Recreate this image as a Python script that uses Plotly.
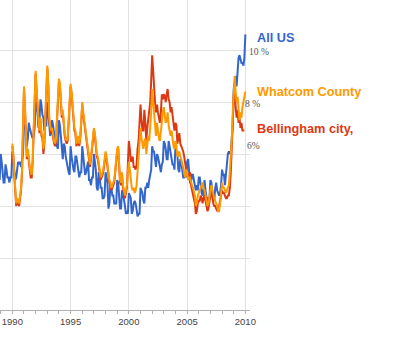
import pandas as pd
import plotly.graph_objects as go

# ---------------- data (monthly unemployment rate, %) ----------------
us_start = "1988-12-01"
county_start = "1990-01-01"

us_rate = [
    5.0,                                                            # Dec 1988
    6.0, 5.7, 5.2, 4.9, 4.9, 5.6, 5.4, 5.1, 5.1, 4.9, 5.1, 5.1,     # 1989
    6.1, 5.8, 5.4, 5.0, 5.1, 5.5, 5.7, 5.6, 5.7, 5.5, 5.9, 6.0,     # 1990
    7.1, 7.1, 7.0, 6.3, 6.6, 7.2, 7.0, 6.8, 6.7, 6.6, 6.7, 7.0,     # 1991
    8.0, 7.9, 7.6, 7.0, 7.3, 8.1, 7.9, 7.5, 7.4, 6.9, 7.1, 7.1,     # 1992
    8.0, 7.6, 7.2, 6.7, 6.8, 7.3, 7.1, 6.7, 6.5, 6.4, 6.3, 6.2,     # 1993
    7.3, 7.1, 6.7, 6.0, 5.8, 6.4, 6.3, 5.9, 5.7, 5.4, 5.3, 5.2,     # 1994
    6.3, 5.9, 5.6, 5.4, 5.3, 5.9, 5.9, 5.6, 5.4, 5.1, 5.3, 5.3,     # 1995
    6.3, 6.0, 5.7, 5.2, 5.3, 5.6, 5.7, 5.0, 5.0, 4.8, 5.1, 5.1,     # 1996
    6.0, 5.7, 5.4, 4.7, 4.6, 5.3, 5.1, 4.7, 4.7, 4.3, 4.3, 4.4,     # 1997
    5.3, 5.1, 4.9, 3.9, 4.1, 4.8, 4.7, 4.4, 4.4, 4.1, 4.1, 4.1,     # 1998
    5.0, 4.9, 4.4, 3.9, 3.9, 4.6, 4.5, 4.1, 4.0, 3.7, 3.8, 3.7,     # 1999
    4.5, 4.4, 4.3, 3.7, 3.8, 4.1, 4.2, 4.1, 3.8, 3.6, 3.7, 3.7,     # 2000
    4.7, 4.6, 4.5, 4.2, 4.1, 4.7, 4.7, 4.9, 4.7, 5.0, 5.3, 5.4,     # 2001
    6.3, 6.1, 6.1, 5.7, 5.5, 6.0, 5.9, 5.7, 5.4, 5.3, 5.6, 5.7,     # 2002
    6.5, 6.4, 6.2, 5.8, 5.8, 6.5, 6.3, 6.0, 5.8, 5.6, 5.6, 5.4,     # 2003
    6.3, 6.0, 6.0, 5.4, 5.3, 5.8, 5.7, 5.4, 5.1, 5.1, 5.2, 5.1,     # 2004
    5.7, 5.8, 5.4, 4.9, 4.9, 5.2, 5.2, 4.9, 4.8, 4.6, 4.8, 4.6,     # 2005
    5.1, 5.1, 4.8, 4.5, 4.4, 4.8, 5.0, 4.6, 4.4, 4.1, 4.3, 4.3,     # 2006
    5.0, 4.9, 4.5, 4.3, 4.2, 4.7, 4.9, 4.6, 4.5, 4.4, 4.5, 4.8,     # 2007
    5.4, 5.2, 5.2, 4.8, 5.2, 5.7, 6.0, 6.1, 6.0, 6.1, 6.5, 7.1,     # 2008
    8.5, 8.9, 9.0, 8.6, 9.1, 9.7, 9.8, 9.6, 9.5, 9.5, 9.4, 9.7,     # 2009
    10.6,                                                           # Jan 2010
]

whatcom_rate = [
    6.4, 6.0, 5.3, 4.6, 4.1, 4.3, 4.2, 4.1, 4.4, 4.7, 5.4, 7.2,     # 1990
    8.6, 7.8, 6.9, 5.9, 6.2, 5.7, 5.5, 5.3, 5.2, 5.8, 6.9, 8.0,     # 1991
    9.2, 8.5, 7.7, 7.3, 6.9, 7.4, 6.8, 6.7, 6.2, 6.5, 7.5, 8.4,     # 1992
    9.4, 8.7, 7.4, 7.1, 6.9, 7.0, 6.7, 6.5, 6.4, 6.6, 7.4, 8.2,     # 1993
    8.9, 8.7, 7.8, 7.5, 7.7, 7.1, 6.8, 6.6, 6.5, 6.6, 7.2, 8.0,     # 1994
    8.7, 8.4, 7.8, 7.3, 7.0, 6.9, 6.4, 6.5, 6.7, 6.4, 6.7, 7.3,     # 1995
    8.0, 7.6, 7.3, 7.0, 6.8, 6.5, 6.2, 5.8, 5.6, 5.9, 6.2, 6.6,     # 1996
    7.0, 6.8, 6.4, 6.0, 5.9, 5.7, 5.4, 5.1, 5.2, 5.3, 5.5, 5.8,     # 1997
    6.1, 5.9, 5.5, 5.3, 5.0, 4.9, 4.7, 4.8, 4.9, 5.0, 5.4, 5.9,     # 1998
    6.2, 6.3, 5.6, 5.0, 4.9, 5.3, 4.8, 4.6, 4.4, 4.6, 4.8, 5.3,     # 1999
    5.7, 5.4, 4.9, 4.7, 4.6, 4.7, 4.5, 4.6, 4.8, 5.3, 5.8, 6.3,     # 2000
    7.0, 6.6, 6.3, 6.2, 6.5, 6.6, 6.0, 6.3, 6.7, 6.5, 7.0, 7.6,     # 2001
    8.5, 8.0, 7.5, 7.0, 6.7, 7.2, 6.8, 6.6, 6.5, 6.9, 7.4, 7.6,     # 2002
    7.8, 7.4, 7.2, 7.3, 7.6, 7.1, 6.8, 6.7, 6.9, 6.5, 6.3, 6.2,     # 2003
    6.5, 6.3, 5.9, 6.0, 6.1, 5.9, 5.8, 5.6, 5.5, 5.3, 5.1, 5.4,     # 2004
    5.3, 5.0, 5.1, 5.1, 4.9, 4.8, 4.7, 4.5, 4.4, 4.0, 4.1, 4.4,     # 2005
    4.5, 4.6, 4.7, 4.8, 4.9, 4.7, 4.6, 4.4, 4.2, 4.0, 4.1, 4.5,     # 2006
    4.6, 4.8, 4.6, 4.4, 4.3, 4.2, 4.1, 4.0, 3.8, 3.8, 4.1, 4.4,     # 2007
    4.9, 4.7, 4.7, 4.6, 4.5, 4.6, 4.7, 4.8, 5.3, 5.9, 6.6, 7.6,     # 2008
    8.6, 9.0, 8.4, 8.0, 8.2, 7.8, 7.3, 7.6, 7.4, 7.8, 8.1, 8.2,     # 2009
    8.4,                                                            # Jan 2010
]

bellingham_rate = [
    6.3, 5.9, 5.2, 4.5, 4.0, 4.2, 4.1, 4.0, 4.3, 4.6, 5.3, 7.1,     # 1990
    8.5, 7.7, 6.8, 5.8, 6.1, 5.6, 5.4, 5.1, 5.1, 5.7, 6.8, 7.9,     # 1991
    9.1, 8.4, 7.6, 7.2, 6.8, 7.3, 6.7, 6.6, 6.0, 6.4, 7.4, 8.3,     # 1992
    9.3, 8.6, 7.3, 7.0, 6.8, 6.9, 6.6, 6.4, 6.3, 6.5, 7.3, 8.1,     # 1993
    8.8, 8.6, 7.7, 7.4, 7.6, 7.0, 6.7, 6.5, 6.4, 6.5, 7.1, 7.9,     # 1994
    8.6, 8.3, 7.7, 7.2, 6.9, 6.8, 6.3, 6.4, 6.6, 6.3, 6.6, 7.2,     # 1995
    7.9, 7.5, 7.2, 6.9, 6.7, 6.4, 6.1, 5.7, 5.5, 5.8, 6.1, 6.5,     # 1996
    6.9, 6.7, 6.3, 5.9, 5.8, 5.6, 5.3, 5.0, 5.1, 5.2, 5.4, 5.7,     # 1997
    6.0, 5.8, 5.4, 5.2, 4.9, 4.8, 4.6, 4.7, 4.8, 4.9, 5.3, 5.8,     # 1998
    6.1, 6.2, 5.5, 4.9, 4.8, 5.2, 4.7, 4.5, 4.3, 4.5, 4.7, 5.6,     # 1999
    6.5, 6.2, 5.7, 5.8, 5.9, 5.5, 5.5, 5.4, 5.6, 6.2, 6.5, 7.2,     # 2000
    7.9, 7.3, 6.9, 6.9, 7.7, 7.2, 6.5, 7.0, 7.4, 7.5, 8.0, 8.8,     # 2001
    9.8, 9.2, 8.5, 8.0, 7.6, 7.9, 7.6, 7.4, 7.2, 7.6, 8.3, 8.1,     # 2002
    8.3, 8.2, 8.0, 8.3, 8.5, 8.1, 8.0, 7.6, 7.8, 7.5, 7.1, 6.9,     # 2003
    7.2, 7.1, 6.4, 6.7, 6.8, 6.4, 6.3, 6.2, 6.1, 5.9, 5.6, 5.4,     # 2004
    5.3, 5.1, 5.2, 5.3, 4.8, 4.6, 4.4, 4.2, 4.1, 3.7, 3.8, 4.1,     # 2005
    4.2, 4.2, 4.4, 4.3, 4.1, 4.3, 4.5, 4.2, 4.0, 3.8, 3.9, 4.3,     # 2006
    4.4, 4.6, 4.3, 4.1, 4.0, 4.0, 3.9, 3.8, 3.9, 4.0, 4.2, 4.4,     # 2007
    4.6, 4.5, 4.5, 4.4, 4.3, 4.3, 4.4, 4.4, 4.7, 5.3, 6.1, 7.2,     # 2008
    8.3, 8.7, 7.8, 7.4, 7.7, 7.2, 7.4, 7.0, 7.2, 6.9, 6.9, 6.9,     # 2009
]

tick_years = ["1990", "1995", "2000", "2005", "2010"]

series_names = ["All US", "Whatcom County", "Bellingham city,"]
series_colors = ["#3366cc", "#ff9900", "#dc3912"]
value_labels = ["10 %", "8 %", "6%"]

# ---------------- figure ----------------
us_dates = pd.date_range(us_start, periods=len(us_rate), freq="MS")
wc_dates = pd.date_range(county_start, periods=len(whatcom_rate), freq="MS")
bc_dates = pd.date_range(county_start, periods=len(bellingham_rate), freq="MS")

fig = go.Figure()
fig.add_trace(go.Scatter(x=us_dates, y=us_rate, mode="lines",
                         line=dict(color=series_colors[0], width=2), name=series_names[0]))
fig.add_trace(go.Scatter(x=bc_dates, y=bellingham_rate, mode="lines",
                         line=dict(color=series_colors[2], width=2), name=series_names[2]))
fig.add_trace(go.Scatter(x=wc_dates, y=whatcom_rate, mode="lines",
                         line=dict(color=series_colors[1], width=2), name=series_names[1]))

label_font = dict(family="Arial, Liberation Sans, sans-serif", size=12.7)
val_font = dict(family="Times New Roman, Liberation Serif, serif", size=9.5, color="#555555")

annotations = [
    dict(text=series_names[0], x=1.02, y=10.48, font=dict(color=series_colors[0], **label_font)),
    dict(text=series_names[1], x=1.02, y=8.38, font=dict(color=series_colors[1], **label_font)),
    dict(text=series_names[2], x=1.02, y=6.96, font=dict(color=series_colors[2], **label_font)),
    dict(text=value_labels[0], x=0.988, y=9.94, font=val_font),
    dict(text=value_labels[1], x=0.972, y=7.94, font=val_font),
    dict(text=value_labels[2], x=0.98, y=6.31, font=val_font),
]
for a in annotations:
    if a["text"] in series_names:
        a["text"] = "<b>" + a["text"] + "</b>"
    a.update(xref="paper", yref="y", xanchor="left", yanchor="middle",
             showarrow=False, align="left")

fig.update_layout(
    width=400, height=348,
    margin=dict(l=0, r=150, t=0, b=38),
    paper_bgcolor="white", plot_bgcolor="white",
    showlegend=False,
    annotations=annotations,
    xaxis=dict(
        type="date",
        range=["1988-12-10", "2010-05-26"],
        tickvals=[y + "-01-01" for y in tick_years],
        ticktext=tick_years,
        showgrid=True, gridcolor="#e2e2e2", gridwidth=1,
        showline=True, linecolor="#b0b0b0", linewidth=1,
        ticks="outside", ticklen=3, tickcolor="#b0b0b0",
        tickfont=dict(family="Arial, Liberation Sans, sans-serif", size=9.5, color="#444444"),
        minor=dict(ticks="outside", ticklen=3, tickcolor="#b0b0b0",
                   dtick="M12", tick0="1990-01-01", showgrid=False),
        zeroline=False,
    ),
    yaxis=dict(
        range=[0, 310 / 26],
        tick0=0, dtick=2,
        showticklabels=False,
        showgrid=True, gridcolor="#e2e2e2", gridwidth=1,
        zeroline=False, showline=False,
    ),
)

fig.write_html("out.html")
